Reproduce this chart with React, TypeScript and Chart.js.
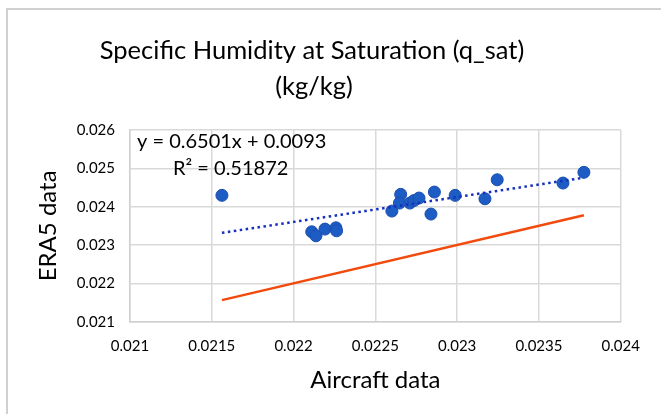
import React, { useEffect, useRef } from "react";
import { Chart, registerables } from "chart.js";

Chart.register(...registerables);

// Aircraft-measured saturation specific humidity (kg/kg)
const aircraft = [
  0.021562, 0.022111, 0.022137, 0.022192, 0.022259, 0.022263, 0.022601,
  0.022655, 0.022647, 0.022711, 0.022736, 0.022767, 0.02284, 0.022861,
  0.022988, 0.02317, 0.023245, 0.023647, 0.023775,
];
// Matching ERA5 reanalysis values (kg/kg)
const era5 = [
  0.024295, 0.023345, 0.02324, 0.023415, 0.023449, 0.023371, 0.023885,
  0.024321, 0.024094, 0.024094, 0.024159, 0.024225, 0.023807, 0.024381,
  0.024295, 0.024206, 0.024702, 0.024616, 0.024896,
];

// Linear fit coefficients shown in the label
const slope = 0.6501;
const intercept = 0.0093;
const rSquared = 0.51872;

const xTicks = [0.021, 0.0215, 0.022, 0.0225, 0.023, 0.0235, 0.024];
const yTicks = [0.021, 0.022, 0.023, 0.024, 0.025, 0.026];

const titleLines = ["Specific Humidity at Saturation (q_sat)", "(kg/kg)"];
const xTitle = "Aircraft data";
const yTitle = "ERA5 data";

const FONT = "Lato, 'Open Sans', sans-serif";

const fmt = (v: number) => String(Number(v.toFixed(4)));

export default function App() {
  const canvasRef = useRef<HTMLCanvasElement | null>(null);

  useEffect(() => {
    const canvas = canvasRef.current;
    if (!canvas) return;

    const xMin = Math.min(...aircraft);
    const xMax = Math.max(...aircraft);
    const points = aircraft.map((x, i) => ({ x, y: era5[i] }));
    const trend = [
      { x: xMin, y: slope * xMin + intercept },
      { x: xMax, y: slope * xMax + intercept },
    ];
    const identity = [
      { x: xMin, y: xMin },
      { x: xMax, y: xMax },
    ];

    const decor = {
      id: "decor",
      beforeDraw(chart: any) {
        const ctx = chart.ctx;
        ctx.save();
        ctx.fillStyle = "#ffffff";
        ctx.fillRect(0, 0, chart.width, chart.height);
        ctx.strokeStyle = "#d0d0d0";
        ctx.lineWidth = 2;
        ctx.strokeRect(7, 9, chart.width + 20, chart.height + 20);
        ctx.restore();
      },
      afterDraw(chart: any) {
        const ctx = chart.ctx;
        ctx.save();
        ctx.fillStyle = "#000000";
        ctx.textAlign = "center";
        ctx.textBaseline = "middle";
        ctx.font = `25.5px ${FONT}`;
        ctx.fillText(titleLines[0], 312, 51);
        ctx.fillText(titleLines[1], 314, 87);

        ctx.textAlign = "left";
        ctx.font = `20px ${FONT}`;
        ctx.fillText(`y = ${slope}x + ${intercept}`, 137, 142);
        ctx.fillText(`R² = ${rSquared}`, 173, 169);
        ctx.restore();
      },
    };

    const chart = new Chart(canvas, {
      type: "scatter",
      data: {
        datasets: [
          {
            label: "1:1",
            data: identity,
            showLine: true,
            borderColor: "#f24a0c",
            borderWidth: 2.5,
            pointRadius: 0,
            order: 3,
          },
          {
            label: "ERA5 vs aircraft",
            data: points,
            backgroundColor: "#1d5cc4",
            borderColor: "#1a4fae",
            borderWidth: 1,
            pointRadius: 6,
            order: 2,
          },
          {
            label: "Linear fit",
            data: trend,
            showLine: true,
            borderColor: "#1530c0",
            borderWidth: 2.5,
            borderDash: [2.5, 3.5],
            borderCapStyle: "butt",
            pointRadius: 0,
            order: 1,
          },
        ],
      },
      options: {
        animation: false,
        responsive: false,
        layout: { padding: { top: 130, right: 40.3, bottom: 0, left: 0 } },
        plugins: {
          legend: { display: false },
          title: { display: false },
          tooltip: { enabled: false },
        },
        scales: {
          x: {
            type: "linear",
            min: 0.021,
            max: 0.024,
            afterBuildTicks: (s: any) => {
              s.ticks = xTicks.map((v) => ({ value: v }));
            },
            afterFit: (s: any) => {
              s.height = 92.3;
            },
            ticks: {
              callback: (v: any) => fmt(Number(v)),
              color: "#000000",
              font: { family: FONT, size: 15 },
              padding: 15,
              maxRotation: 0,
              autoSkip: false,
            },
            grid: { color: "#d9d9d9", lineWidth: 1.5, drawTicks: false },
            border: { display: true, color: "#cfcfcf", width: 1.5 },
            title: {
              display: true,
              text: xTitle,
              color: "#000000",
              font: { family: FONT, size: 24 },
              padding: { top: 0, bottom: 19.6 },
            },
          },
          y: {
            type: "linear",
            min: 0.021,
            max: 0.026,
            afterBuildTicks: (s: any) => {
              s.ticks = yTicks.map((v) => ({ value: v }));
            },
            afterFit: (s: any) => {
              s.width = 130;
            },
            ticks: {
              callback: (v: any) => fmt(Number(v)),
              color: "#000000",
              font: { family: FONT, size: 15 },
              padding: 15,
              autoSkip: false,
            },
            grid: { color: "#d9d9d9", lineWidth: 1.5, drawTicks: false },
            border: { display: true, color: "#cfcfcf", width: 1.5 },
            title: {
              display: true,
              text: yTitle,
              color: "#000000",
              font: { family: FONT, size: 24 },
              padding: { top: 33.6, bottom: 0 },
            },
          },
        },
      },
      plugins: [decor],
    });

    return () => chart.destroy();
  }, []);

  return (
    <div style={{ position: "fixed", left: 0, top: 0, width: 661, height: 414, background: "#fff" }}>
      <canvas ref={canvasRef} width={661} height={414} style={{ display: "block" }} />
    </div>
  );
}
